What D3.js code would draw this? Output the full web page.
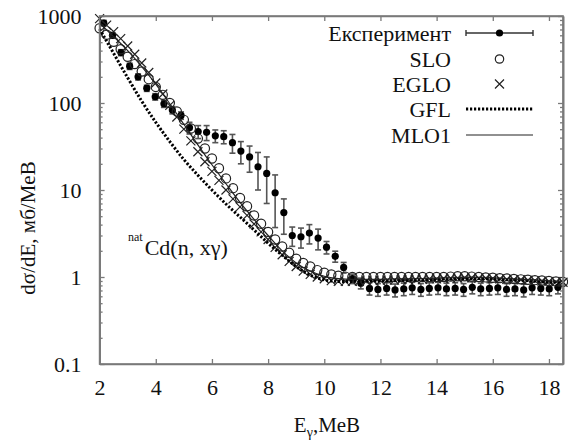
<!DOCTYPE html>
<html>
<head>
<meta charset="utf-8">
<script src="https://cdn.jsdelivr.net/npm/d3@7"></script>
<style>
  body { margin: 0; background: #fff; }
  svg text { font-family: "Liberation Serif", "Times New Roman", Tinos, "DejaVu Serif", serif !important; fill: #111; }
</style>
</head>
<body>
<script>
// experiment (points with error bars)
const expE = [2.15, 2.46, 2.76, 3.07, 3.37, 3.68, 3.98, 4.29, 4.59, 4.90,
  5.20, 5.51, 5.81, 6.12, 6.42, 6.73, 7.03, 7.34, 7.64, 7.95,
  8.25, 8.56, 8.86, 9.17, 9.47, 9.78, 10.08, 10.39, 10.69, 11.00,
  11.30, 11.61, 11.91, 12.22, 12.52, 12.83, 13.13, 13.44, 13.74, 14.05,
  14.35, 14.66, 14.96, 15.27, 15.57, 15.88, 16.18, 16.49, 16.79, 17.10,
  17.40, 17.71, 18.01, 18.32];
const expVal = [830, 600, 380, 265, 200, 148, 118, 98, 83, 72,
  52, 47, 46, 42, 41, 35, 28, 24, 18.5, 15.5,
  9.3, 5.5, 3.0, 2.9, 3.2, 2.8, 2.2, 1.73, 1.29, 0.96,
  0.85, 0.74, 0.72, 0.74, 0.71, 0.73, 0.75, 0.72, 0.74, 0.75,
  0.73, 0.74, 0.72, 0.76, 0.73, 0.74, 0.75, 0.72, 0.73, 0.71,
  0.75, 0.74, 0.73, 0.76];
const expErr = [60, 45, 30, 22, 16, 12, 10, 9, 8, 7,
  8, 8, 9, 7, 7, 8.5, 8, 8, 8.5, 8.5,
  5.6, 2.4, 0.75, 0.75, 0.8, 0.75, 0.36, 0.25, 0.18, 0.12,
  0.12, 0.12, 0.12, 0.12, 0.12, 0.12, 0.12, 0.12, 0.12, 0.12,
  0.12, 0.12, 0.12, 0.12, 0.12, 0.12, 0.12, 0.12, 0.12, 0.12,
  0.12, 0.12, 0.12, 0.12];

// model curves shown with markers
const modelE = [2, 2.25, 2.5, 2.75, 3, 3.25, 3.5, 3.75, 4, 4.25, 4.5, 4.75,
  5, 5.25, 5.5, 5.75, 6, 6.25, 6.5, 6.75, 7, 7.25, 7.5, 7.75,
  8, 8.25, 8.5, 8.75, 9, 9.25, 9.5, 9.75, 10, 10.25, 10.5, 10.75,
  11, 11.25, 11.5, 11.75, 12, 12.25, 12.5, 12.75, 13, 13.25, 13.5, 13.75,
  14, 14.25, 14.5, 14.75, 15, 15.25, 15.5, 15.75, 16, 16.25, 16.5, 16.75,
  17, 17.25, 17.5, 17.75, 18, 18.25, 18.5];
const sloVal = [724, 610, 505, 415, 340, 280, 230, 188, 153, 124, 100, 80,
  64, 51, 39, 30, 23, 17.8, 13.6, 10.5, 8.1, 6.5, 5.1, 4.1,
  3.3, 2.7, 2.24, 1.9, 1.62, 1.45, 1.32, 1.2, 1.12, 1.07, 1.035, 1.01,
  1.0, 1.0, 1.0, 1.0, 1.0, 1.0, 1.0, 1.0, 1.0, 1.0, 1.0, 1.0,
  1.0, 1.0, 1.01, 1.02, 1.02, 1.01, 1.0, 0.99, 0.98, 0.97, 0.96, 0.95,
  0.94, 0.93, 0.92, 0.91, 0.9, 0.89, 0.88];
const egloVal = [933, 785, 661, 550, 452, 363, 288, 224, 170, 127, 94, 69,
  50, 36.7, 27.5, 21.1, 16.4, 12.9, 10.0, 7.9, 6.4, 5.1, 4.07, 3.3,
  2.7, 2.19, 1.8, 1.51, 1.32, 1.17, 1.07, 1.0, 0.955, 0.91, 0.89, 0.89,
  0.89, 0.9, 0.9, 0.91, 0.91, 0.92, 0.92, 0.93, 0.93, 0.94, 0.94, 0.95,
  0.95, 0.96, 0.97, 0.97, 0.98, 0.98, 0.97, 0.97, 0.96, 0.95, 0.94, 0.93,
  0.93, 0.92, 0.91, 0.9, 0.89, 0.88, 0.87];

// model curves shown as lines
const lineE = [2, 2.5, 3, 3.5, 4, 4.5, 5, 5.5, 6, 6.5, 7, 7.5, 8, 8.5, 9, 9.5,
  10, 10.5, 11, 11.5, 12, 12.5, 13, 13.5, 14, 14.5, 15, 15.5, 16, 16.5, 17, 17.5, 18, 18.5];
const gflVal = [708, 372, 195, 105, 60, 36, 22.4, 14.8, 10, 6.9, 4.9, 3.47, 2.45, 1.78, 1.32, 1.05,
  0.93, 0.89, 0.89, 0.9, 0.9, 0.91, 0.92, 0.93, 0.94, 0.95, 0.96, 0.96, 0.95, 0.93, 0.92, 0.9, 0.88, 0.87];
const mloVal = [820, 580, 400, 262, 165, 98, 57, 33, 19.5, 11.8, 7.2, 4.6, 3.0, 2.0, 1.45, 1.17,
  1.02, 0.96, 0.94, 0.94, 0.94, 0.95, 0.95, 0.96, 0.97, 0.98, 0.99, 0.99, 0.98, 0.96, 0.94, 0.92, 0.9, 0.89];

const xTicks = [2, 4, 6, 8, 10, 12, 14, 16, 18];
const yTicks = [0.1, 1, 10, 100, 1000];
const legendLabels = ["Експеримент", "SLO", "EGLO", "GFL", "MLO1"];

const w = 568;
const h = 441;
const pl = 99.6, pr = 563, pt = 16, pb = 364;
const axisColor = "#7a7a7a";
const serif = '"Liberation Serif", "Times New Roman", Tinos, "DejaVu Serif", serif';

const x = d3.scaleLinear().domain([2, 18.5]).range([pl, pr]);
const y = d3.scaleLog().domain([0.1, 1000]).range([pb, pt]);

const svg = d3.select("body").append("svg")
  .attr("width", w).attr("height", h)
  .style("font-family", serif);

// minor log ticks
const minorTicks = [];
yTicks.slice(0, -1).forEach((d) => {
  for (let k = 2; k <= 9; k++) minorTicks.push(d * k);
});

function styleAxis(g) {
  g.attr("font-family", null);
  g.selectAll("path").attr("stroke", axisColor).attr("stroke-width", 1.6);
  g.selectAll("line").attr("stroke", axisColor).attr("stroke-width", 1.3);
  g.selectAll("text").attr("font-size", 22).attr("fill", "#111").style("font-family", serif);
}

// bottom axis with labels
svg.append("g")
  .attr("transform", `translate(0,${pb})`)
  .call(d3.axisBottom(x).tickValues(xTicks).tickSize(-5).tickSizeOuter(0).tickPadding(15))
  .call(styleAxis);
// top axis
svg.append("g")
  .attr("transform", `translate(0,${pt})`)
  .call(d3.axisTop(x).tickValues(xTicks).tickSize(-5).tickSizeOuter(0).tickFormat(""))
  .call(styleAxis);
// left axis with labels
svg.append("g")
  .attr("transform", `translate(${pl},0)`)
  .call(d3.axisLeft(y).tickValues(yTicks).tickSize(-5).tickSizeOuter(0).tickPadding(18)
    .tickFormat(d3.format("")))
  .call(styleAxis);
svg.append("g")
  .attr("transform", `translate(${pl},0)`)
  .call(d3.axisLeft(y).tickValues(minorTicks).tickSize(-3).tickSizeOuter(0).tickFormat(""))
  .call(styleAxis);
// right axis
svg.append("g")
  .attr("transform", `translate(${pr},0)`)
  .call(d3.axisRight(y).tickValues(yTicks).tickSize(-5).tickSizeOuter(0).tickFormat(""))
  .call(styleAxis);
svg.append("g")
  .attr("transform", `translate(${pr},0)`)
  .call(d3.axisRight(y).tickValues(minorTicks).tickSize(-3).tickSizeOuter(0).tickFormat(""))
  .call(styleAxis);

// experiment error bars and points
const expData = expE.map((e, i) => ({ e, v: expVal[i], err: expErr[i] }));
const eb = svg.append("g").attr("stroke", "#555").attr("stroke-width", 1.6);
expData.forEach((d) => {
  const y1 = y(d.v + d.err), y0 = y(Math.max(d.v - d.err, 0.11));
  eb.append("line").attr("x1", x(d.e)).attr("x2", x(d.e)).attr("y1", y1).attr("y2", y0);
  eb.append("line").attr("x1", x(d.e) - 3).attr("x2", x(d.e) + 3).attr("y1", y1).attr("y2", y1);
  eb.append("line").attr("x1", x(d.e) - 3).attr("x2", x(d.e) + 3).attr("y1", y0).attr("y2", y0);
});
svg.append("g")
  .selectAll("circle")
  .data(expData)
  .enter()
  .append("circle")
  .attr("cx", (d) => x(d.e))
  .attr("cy", (d) => y(d.v))
  .attr("r", 3.6)
  .attr("fill", "#000");

// SLO circles
svg.append("g")
  .selectAll("circle")
  .data(modelE.map((e, i) => [e, sloVal[i]]))
  .enter()
  .append("circle")
  .attr("cx", (d) => x(d[0]))
  .attr("cy", (d) => y(d[1]))
  .attr("r", 4.6)
  .attr("fill", "none")
  .attr("stroke", "#222")
  .attr("stroke-width", 1.2);

// EGLO crosses
svg.append("g")
  .selectAll("path")
  .data(modelE.map((e, i) => [e, egloVal[i]]))
  .enter()
  .append("path")
  .attr("transform", (d) => `translate(${x(d[0])},${y(d[1])})`)
  .attr("d", "M-4.5,-4.5L4.5,4.5M-4.5,4.5L4.5,-4.5")
  .attr("stroke", "#222")
  .attr("stroke-width", 1.2);

// GFL and MLO1 lines
const line = d3.line().x((d) => x(d[0])).y((d) => y(d[1])).curve(d3.curveMonotoneX);
svg.append("path")
  .datum(lineE.map((e, i) => [e, gflVal[i]]))
  .attr("d", line)
  .attr("fill", "none")
  .attr("stroke", "#000")
  .attr("stroke-width", 3)
  .attr("stroke-dasharray", "2.2,1.8");
svg.append("path")
  .datum(lineE.map((e, i) => [e, mloVal[i]]))
  .attr("d", line)
  .attr("fill", "none")
  .attr("stroke", "#222")
  .attr("stroke-width", 1.2);

// frame
svg.append("rect")
  .attr("x", pl).attr("y", pt)
  .attr("width", pr - pl).attr("height", pb - pt)
  .attr("fill", "none").attr("stroke", axisColor).attr("stroke-width", 1.6);

// legend
const legendX = 451, symX0 = 466, symX1 = 533, symC = 499.5;
const legendY = [33, 59, 84, 109, 135];
const lg = svg.append("g");
legendLabels.forEach((t, i) => {
  lg.append("text")
    .attr("x", legendX).attr("y", legendY[i]).attr("dy", "0.35em")
    .attr("text-anchor", "end").attr("font-size", 22).text(t);
});
// experiment sample
lg.append("line").attr("x1", symX0).attr("x2", symX1).attr("y1", legendY[0]).attr("y2", legendY[0])
  .attr("stroke", "#333").attr("stroke-width", 1.4);
[symX0, symX1].forEach((sx) => {
  lg.append("line").attr("x1", sx).attr("x2", sx).attr("y1", legendY[0] - 3).attr("y2", legendY[0] + 3)
    .attr("stroke", "#333").attr("stroke-width", 1.4);
});
lg.append("circle").attr("cx", symC).attr("cy", legendY[0]).attr("r", 3.6).attr("fill", "#000");
lg.append("circle").attr("cx", symC).attr("cy", legendY[1]).attr("r", 4.2)
  .attr("fill", "none").attr("stroke", "#222").attr("stroke-width", 1.2);
lg.append("path").attr("transform", `translate(${symC},${legendY[2]})`)
  .attr("d", "M-4.5,-4.5L4.5,4.5M-4.5,4.5L4.5,-4.5").attr("stroke", "#222").attr("stroke-width", 1.2);
lg.append("line").attr("x1", symX0).attr("x2", symX1).attr("y1", legendY[3]).attr("y2", legendY[3])
  .attr("stroke", "#000").attr("stroke-width", 3).attr("stroke-dasharray", "2.2,1.8");
lg.append("line").attr("x1", symX0).attr("x2", symX1).attr("y1", legendY[4]).attr("y2", legendY[4])
  .attr("stroke", "#222").attr("stroke-width", 1.2);

// reaction label
const ann = svg.append("text").attr("x", 128).attr("y", 255).attr("font-size", 22);
ann.append("tspan").attr("font-size", 12).attr("dy", -14).text("nat");
ann.append("tspan").attr("dy", 14).attr("dx", 2).text("Cd(n, xγ)");

// axis titles
const xt = svg.append("text").attr("x", 327).attr("y", 432).attr("text-anchor", "middle").attr("font-size", 21);
xt.append("tspan").text("E");
xt.append("tspan").attr("font-size", 14).attr("dy", 5).text("γ");
xt.append("tspan").attr("dy", -5).text(",MeB");

svg.append("text")
  .attr("transform", "translate(35,228) rotate(-90)")
  .attr("text-anchor", "middle")
  .attr("font-size", 21)
  .text("dσ/dE, мб/MeB");
</script>
</body>
</html>
